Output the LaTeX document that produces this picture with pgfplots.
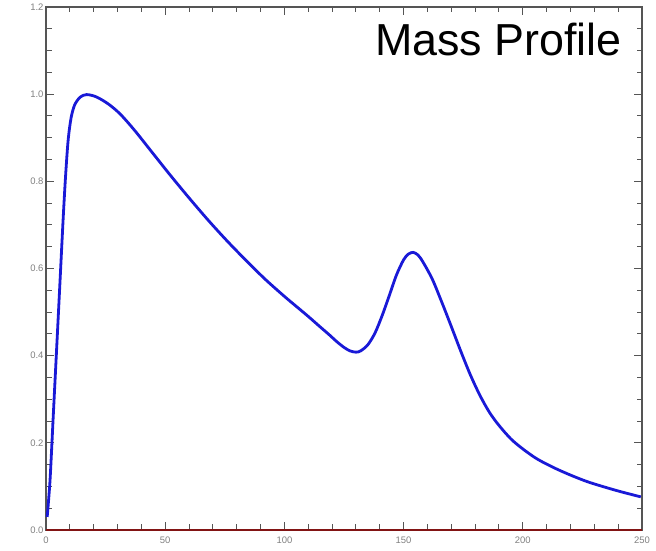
\documentclass[border=0pt]{standalone}
\usepackage{pgfplots}
\pgfplotsset{compat=1.18}
\usepackage{fontspec}
\setmainfont{Liberation Sans}
\definecolor{curveblue}{RGB}{25,25,215}
\definecolor{zerored}{RGB}{130,20,20}
\definecolor{axgray}{RGB}{85,85,85}
\begin{document}
\begin{tikzpicture}[x=1bp,y=1bp]
\useasboundingbox (0,0) rectangle (656,551);
\begin{axis}[
  at={(46bp,21bp)}, anchor=south west,
  scale only axis, width=596bp, height=523bp,
  xmin=0, xmax=250, ymin=0, ymax=1.2,
  xtick={0,50,...,250}, ytick={0,0.2,...,1.2},
  minor x tick num=4, minor y tick num=3,
  tick align=inside, tick pos=both,
  major tick length=8bp, minor tick length=5.5bp,
  every tick/.style={axgray, line width=1bp},
  axis line style={axgray, line width=1.2bp},
  tick label style={font=\fontsize{9.5}{10}\selectfont, text=black!50},
  xticklabel style={yshift=-3bp},
  yticklabel style={xshift=1bp},
  /pgf/number format/assume math mode=true,
  yticklabel style={/pgf/number format/.cd, fixed, fixed zerofill, precision=1},
  xticklabel style={/pgf/number format/.cd, fixed, precision=0},
  clip=false,
]
\addplot[zerored, line width=2bp] coordinates {(0,0) (250,0)};
\addplot[curveblue, line width=2.8bp, smooth, tension=0.5] coordinates {
(0.5,0.03) (1.7,0.115) (3.1,0.268) (4.5,0.42) (5.9,0.573) (7.3,0.725)
(8.3,0.82) (9.3,0.895) (10.5,0.945) (12,0.975) (14.3,0.993) (17,0.999)
(21,0.994) (26,0.978) (31,0.955) (37,0.918) (44,0.870) (52,0.815) (60,0.762)
(68,0.711) (76,0.663) (84,0.618) (92,0.575) (100,0.536) (105,0.513)
(110,0.490) (115,0.466) (119,0.447) (122,0.432) (125,0.419) (127.5,0.411)
(130,0.408) (132,0.411) (135,0.425) (138,0.452) (141,0.492) (144,0.538)
(147,0.585) (150,0.620) (152,0.633) (154,0.637) (156,0.631) (158,0.616)
(162,0.576) (166,0.523) (170,0.467) (174,0.410) (178,0.356) (182,0.309)
(186,0.270) (190,0.240) (195,0.209) (200,0.186) (206,0.163) (213,0.143)
(220,0.126) (227,0.111) (234,0.099) (241,0.088) (249.5,0.076)
};
\node[anchor=base east, font=\fontsize{45}{50}\selectfont, inner sep=0pt] at (axis cs:241.6,1.089) {Mass Profile};
\end{axis}
\end{tikzpicture}
\end{document}
